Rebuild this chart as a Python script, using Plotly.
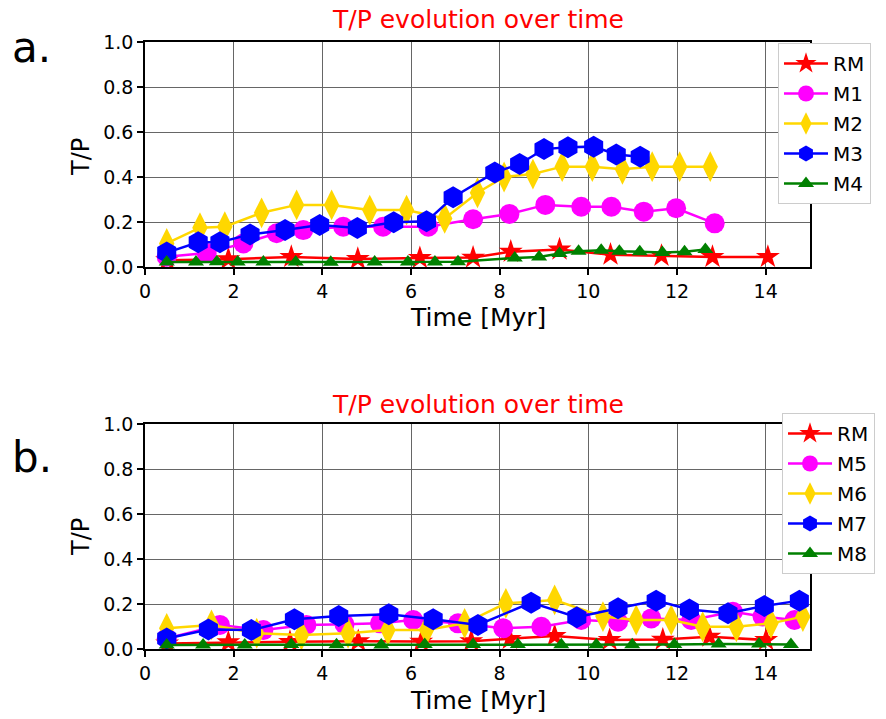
import plotly.graph_objects as go

# ---------------- Data (panel a) ----------------
a_rm_x = [0.5, 1.88, 3.3, 4.8, 6.2, 7.4, 8.25, 9.35, 10.5, 11.65, 12.8, 14.05]
a_rm_y = [0.03, 0.035, 0.045, 0.036, 0.04, 0.042, 0.068, 0.078, 0.055, 0.05, 0.045, 0.045]

a_m1_x = [0.49, 1.39, 2.22, 2.97, 3.57, 4.47, 5.37, 6.39, 7.4, 8.22, 9.03, 9.84, 10.52, 11.25, 11.98, 12.85]
a_m1_y = [0.046, 0.062, 0.105, 0.15, 0.164, 0.179, 0.179, 0.179, 0.212, 0.236, 0.276, 0.268, 0.268, 0.246, 0.261, 0.194]

a_m2_x = [0.49, 1.24, 1.8, 2.63, 3.42, 4.21, 5.07, 5.9, 6.76, 7.5, 8.1, 8.75, 9.41, 10.09, 10.77, 11.44, 12.06, 12.75]
a_m2_y = [0.105, 0.175, 0.179, 0.241, 0.276, 0.276, 0.253, 0.253, 0.216, 0.33, 0.40, 0.413, 0.446, 0.446, 0.434, 0.446, 0.446, 0.446]

a_m3_x = [0.49, 1.2, 1.69, 2.37, 3.16, 3.94, 4.79, 5.61, 6.35, 6.95, 7.89, 8.45, 9.0, 9.54, 10.12, 10.63, 11.17]
a_m3_y = [0.064, 0.11, 0.11, 0.145, 0.164, 0.187, 0.173, 0.199, 0.203, 0.31, 0.42, 0.458, 0.524, 0.532, 0.535, 0.50, 0.49]

a_m4_x = [0.49, 1.15, 1.62, 2.09, 2.67, 3.4, 4.19, 5.18, 5.93, 6.54, 7.06, 8.34, 8.89, 9.35, 9.78, 10.29, 10.7, 11.16, 11.67, 12.17, 12.64]
a_m4_y = [0.022, 0.022, 0.023, 0.022, 0.022, 0.022, 0.021, 0.022, 0.022, 0.022, 0.023, 0.04, 0.045, 0.06, 0.07, 0.075, 0.07, 0.068, 0.065, 0.068, 0.078]

# ---------------- Data (panel b) ----------------
b_rm_x = [0.5, 1.88, 3.27, 4.81, 6.23, 7.36, 8.23, 9.24, 10.48, 11.68, 12.73, 14.01]
b_rm_y = [0.025, 0.03, 0.032, 0.035, 0.033, 0.035, 0.045, 0.058, 0.04, 0.042, 0.055, 0.04]

b_m5_x = [0.49, 1.69, 2.67, 3.64, 4.5, 5.3, 6.05, 7.06, 8.08, 8.94, 9.84, 10.67, 11.42, 12.32, 13.26, 13.93, 14.65]
b_m5_y = [0.047, 0.107, 0.084, 0.107, 0.11, 0.114, 0.129, 0.114, 0.092, 0.099, 0.129, 0.121, 0.136, 0.129, 0.166, 0.144, 0.129]

b_m6_x = [0.49, 1.5, 2.52, 3.53, 4.58, 5.48, 6.35, 7.21, 8.14, 9.24, 10.33, 11.08, 11.87, 12.58, 13.34, 14.12, 14.84]
b_m6_y = [0.092, 0.107, 0.07, 0.062, 0.07, 0.084, 0.085, 0.114, 0.203, 0.218, 0.144, 0.129, 0.129, 0.099, 0.099, 0.114, 0.144]

b_m7_x = [0.49, 1.43, 2.4, 3.37, 4.37, 5.5, 6.5, 7.51, 8.71, 9.74, 10.67, 11.53, 12.28, 13.15, 13.97, 14.76]
b_m7_y = [0.047, 0.087, 0.084, 0.132, 0.147, 0.154, 0.132, 0.107, 0.206, 0.141, 0.181, 0.215, 0.176, 0.159, 0.191, 0.215]

b_m8_x = [0.49, 1.31, 2.25, 3.3, 4.32, 5.33, 6.31, 7.4, 8.41, 9.39, 10.18, 10.99, 11.94, 12.94, 13.85, 14.57]
b_m8_y = [0.018, 0.018, 0.018, 0.02, 0.019, 0.018, 0.02, 0.02, 0.02, 0.019, 0.019, 0.019, 0.02, 0.022, 0.022, 0.02]

x_ticks = [0, 2, 4, 6, 8, 10, 12, 14]
y_ticks = [0.0, 0.2, 0.4, 0.6, 0.8, 1.0]
panel_title = "T/P evolution over time"
x_title = "Time [Myr]"
y_title = "T/P"

FONT = "DejaVu Sans"
W, H = 886, 719

styles = {
    "RM": dict(color="#ff0000", symbol="star", size=18),
    "C": dict(color="#ff00ff", symbol="circle", size=20),
    "D": dict(color="#ffd700", symbol="diamond-tall", size=22),
    "H": dict(color="#0000ff", symbol="hexagon", size=22),
    "T": dict(color="#008000", symbol="triangle-up", size=14),
}

fig = go.Figure()

def add(x, y, name, st, xa, ya, leg):
    s = styles[st]
    fig.add_trace(go.Scatter(
        x=x, y=y, name=name, mode="lines+markers",
        line=dict(color=s["color"], width=2.5),
        marker=dict(color=s["color"], symbol=s["symbol"], size=s["size"]),
        xaxis=xa, yaxis=ya, legend=leg, legendgroup=leg + name,
    ))

add(a_rm_x, a_rm_y, "RM", "RM", "x", "y", "legend")
add(a_m1_x, a_m1_y, "M1", "C", "x", "y", "legend")
add(a_m2_x, a_m2_y, "M2", "D", "x", "y", "legend")
add(a_m3_x, a_m3_y, "M3", "H", "x", "y", "legend")
add(a_m4_x, a_m4_y, "M4", "T", "x", "y", "legend")

add(b_rm_x, b_rm_y, "RM", "RM", "x2", "y2", "legend2")
add(b_m5_x, b_m5_y, "M5", "C", "x2", "y2", "legend2")
add(b_m6_x, b_m6_y, "M6", "D", "x2", "y2", "legend2")
add(b_m7_x, b_m7_y, "M7", "H", "x2", "y2", "legend2")
add(b_m8_x, b_m8_y, "M8", "T", "x2", "y2", "legend2")

x0, x1 = 145, 810
top_a, bot_a = 42, 267
top_b, bot_b = 424, 649

def px(v):
    return v / W

def py(v):
    return 1 - v / H

axis_common = dict(
    showline=True, linecolor="black", linewidth=1.5, mirror=True,
    showgrid=True, gridcolor="#666666", gridwidth=1.2,
    ticks="outside", ticklen=6, tickwidth=1.5, tickcolor="black",
    tickfont=dict(family=FONT, size=19, color="black"),
    zeroline=False,
)

fig.update_layout(
    width=W, height=H, autosize=False,
    margin=dict(l=0, r=0, t=0, b=0, autoexpand=False),
    paper_bgcolor="white", plot_bgcolor="white",
    font=dict(family=FONT, color="black"),
    xaxis=dict(domain=[px(x0), px(x1)], range=[0, 15], tickvals=x_ticks, anchor="y", **axis_common),
    yaxis=dict(domain=[py(bot_a), py(top_a)], range=[0, 1.0], tickvals=y_ticks,
               tickformat=".1f", anchor="x", **axis_common),
    xaxis2=dict(domain=[px(x0), px(x1)], range=[0, 15], tickvals=x_ticks, anchor="y2", **axis_common),
    yaxis2=dict(domain=[py(bot_b), py(top_b)], range=[0, 1.0], tickvals=y_ticks,
                tickformat=".1f", anchor="x2", **axis_common),
    legend=dict(x=px(778), y=py(43), xanchor="left", yanchor="top",
                bgcolor="white", bordercolor="#cccccc", borderwidth=1,
                font=dict(family=FONT, size=20, color="black"),
                itemwidth=44, tracegroupgap=1),
    legend2=dict(x=px(782), y=py(413), xanchor="left", yanchor="top",
                 bgcolor="white", bordercolor="#cccccc", borderwidth=1,
                 font=dict(family=FONT, size=20, color="black"),
                 itemwidth=44, tracegroupgap=1),
    showlegend=True,
)

ann = []
for (ty, xy, yy, lab, lab_y) in [(19, 317, 157, "a.", 47), (404, 700, 537, "b.", 457)]:
    ann.append(dict(text=panel_title, x=px((x0 + x1) / 2), y=py(ty), xref="paper", yref="paper",
                    xanchor="center", yanchor="middle", showarrow=False,
                    font=dict(family=FONT, size=25, color="#ff0000")))
    ann.append(dict(text=x_title, x=px((x0 + x1) / 2), y=py(xy), xref="paper", yref="paper",
                    xanchor="center", yanchor="middle", showarrow=False,
                    font=dict(family=FONT, size=25, color="black")))
    ann.append(dict(text=y_title, x=px(81), y=py(yy), xref="paper", yref="paper",
                    xanchor="center", yanchor="middle", showarrow=False, textangle=-90,
                    font=dict(family=FONT, size=24, color="black")))
    ann.append(dict(text=lab, x=px(10), y=py(lab_y), xref="paper", yref="paper",
                    xanchor="left", yanchor="middle", showarrow=False,
                    font=dict(family=FONT, size=42, color="black")))
fig.update_layout(annotations=ann)

fig.write_html("out.html")
